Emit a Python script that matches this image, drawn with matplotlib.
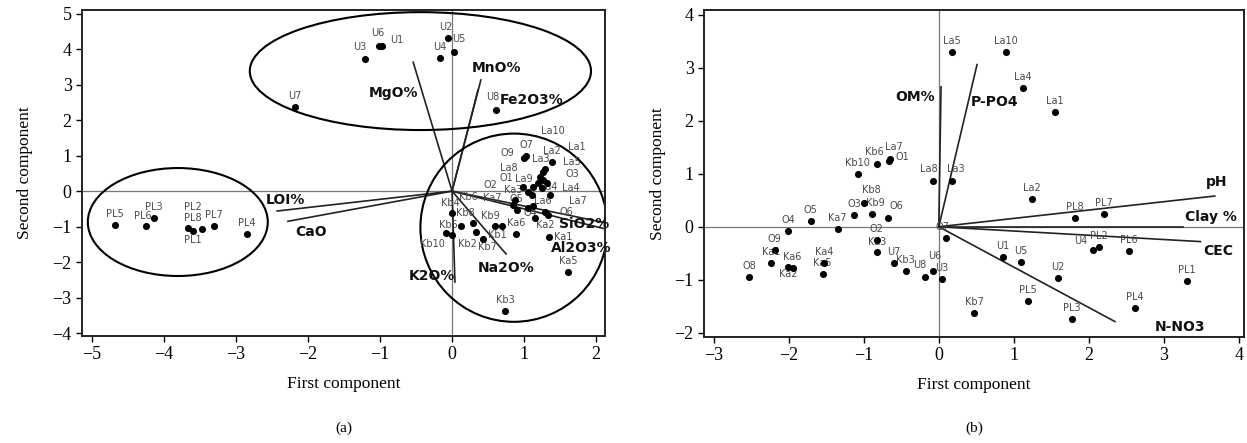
import matplotlib.pyplot as plt
from matplotlib.patches import Ellipse

# ---- panel (a): oxides ----
names_a = ['U1', 'U6', 'U3', 'U2', 'U5', 'U4', 'U7', 'U8',
           'PL5', 'PL6', 'PL3', 'PL2', 'PL8', 'PL1', 'PL7', 'PL4',
           'O7', 'O9', 'La2', 'La10', 'La3', 'La1', 'La5', 'La9', 'La8', 'O1',
           'O3', 'Ka3', 'Ka4', 'La4', 'O2', 'Kb6', 'Ka7', 'O5', 'La6', 'O4',
           'La7', 'O6',
           'Kb4', 'Kb8', 'Kb5', 'Kb10', 'Kb2', 'Kb9', 'Kb1', '', 'Kb7', 'Ka6',
           'Ka2', 'Ka1', 'Ka5', 'Kb3']
x_a = [-0.97, -1.01, -1.21, -0.06, 0.03, -0.17, -2.18, 0.61,
       -4.68, -4.25, -4.14, -3.67, -3.60, -3.47, -3.31, -2.85,
       1.03, 1.00, 1.39, 1.29, 1.26, 1.22, 1.32, 1.19, 0.99, 1.06,
       1.25, 1.13, 1.26, 1.36, 1.11, 0.88, 0.85, 0.90, 1.13, 1.06,
       1.29, 1.33,
       0.00, 0.13, -0.08, 0.00, 0.33, 0.60, 0.69, 0.29, 0.43, 0.89,
       1.15, 1.35, 1.61, 0.74]
y_a = [4.08, 4.08, 3.72, 4.31, 3.92, 3.75, 2.37, 2.28,
       -0.96, -0.99, -0.77, -1.04, -1.13, -1.08, -0.99, -1.21,
       0.99, 0.93, 0.82, 0.62, 0.54, 0.39, 0.23, 0.23, 0.11, -0.03,
       0.08, 0.11, 0.31, -0.11, -0.11, -0.25, -0.39, -0.54, -0.42, -0.48,
       -0.59, -0.68,
       -0.62, -0.99, -1.18, -1.24, -1.15, -0.99, -0.99, -0.90, -1.35, -1.21,
       -0.76, -1.30, -2.28, -3.38]

vars_a = ['MgO%', 'MnO%', 'Fe2O3%', 'LOI%', 'CaO', 'K2O%', 'Na2O%', 'SiO2%', 'Al2O3%']
vx_a = [-0.54, 0.40, 0.36, -2.43, -2.28, 0.04, 0.75, 2.10, 2.10]
vy_a = [3.63, 3.13, 2.85, -0.56, -0.85, -2.56, -1.77, -0.88, -1.05]

# group ellipses (centre x, centre y, width, height)
groups_a = [(-0.44, 3.38, 4.74, 3.32), (-3.81, -0.87, 2.50, 3.04), (0.86, -1.03, 2.60, 5.30)]

# ---- panel (b): soil properties ----
names_b = ['La5', 'La10', 'La4', 'La1', 'Kb10', 'Kb6', 'La7', 'O1', 'La8', 'La3',
           'Kb8', 'Kb9', 'O3', 'O6', 'O5', 'O4', 'Ka7', 'O2', 'Ka3', 'O9',
           'Ka1', 'Ka6', 'Ka2', 'Ka4', 'Ka5', 'O8', 'U7', 'Kb3', 'U8', 'U6',
           'U3', 'O7', 'La2', 'PL8', 'PL7', 'U4', 'PL2', 'PL6', 'U1', 'U5',
           'U2', 'PL1', 'PL5', 'PL4', 'PL3', 'Kb7']
x_b = [0.17, 0.89, 1.12, 1.55, -1.08, -0.83, -0.65, -0.67, -0.08, 0.17,
       -1.00, -0.89, -1.13, -0.68, -1.71, -2.01, -1.35, -0.83, -0.83, -2.19,
       -2.24, -2.01, -1.95, -1.53, -1.55, -2.53, -0.60, -0.44, -0.19, -0.08,
       0.04, 0.10, 1.24, 1.81, 2.20, 2.06, 2.13, 2.53, 0.85, 1.09,
       1.59, 3.31, 1.19, 2.61, 1.77, 0.47]
y_b = [3.30, 3.30, 2.62, 2.17, 1.00, 1.19, 1.28, 1.25, 0.87, 0.87,
       0.45, 0.25, 0.23, 0.17, 0.11, -0.08, -0.04, -0.25, -0.47, -0.43,
       -0.68, -0.75, -0.77, -0.68, -0.89, -0.94, -0.68, -0.83, -0.94, -0.83,
       -0.98, -0.21, 0.53, 0.17, 0.25, -0.43, -0.38, -0.45, -0.57, -0.66,
       -0.96, -1.02, -1.40, -1.53, -1.74, -1.62]

vars_b = ['OM%', 'P-PO4', 'pH', 'Clay %', 'CEC', 'N-NO3']
vx_b = [0.03, 0.51, 3.68, 3.25, 3.49, 2.35]
vy_b = [2.64, 3.06, 0.58, 0.00, -0.28, -1.79]

# ---- layout: label offsets (pixels) and variable label positions ----
offs = {
    'a': {'U1': (15, 6), 'U6': (-2, 13), 'U3': (-5, 12), 'U2': (-2, 11), 'U5': (5, 13),
          'U8': (-3, 13), 'PL6': (-3, 10), 'PL2': (5, 21), 'PL8': (0, 13),
          'PL1': (-9, -11), 'O9': (-17, 5), 'La10': (8, 38), 'La3': (-2, 13),
          'La1': (37, 30), 'La5': (25, 21), 'La9': (-14, 4), 'La8': (-15, 19),
          'O1': (-22, 14), 'O3': (30, 14), 'Ka3': (-20, -3), 'Ka4': (5, -7),
          'La4': (21, 7), 'O2': (-42, 10), 'Kb6': (-47, 3), 'Ka7': (-21, 7),
          'La6': (9, 5), 'O4': (2, -5), 'La7': (33, 11), 'O6': (19, 3),
          'Kb4': (-2, 10), 'Kb8': (4, 13), 'Kb5': (2, 8), 'Kb10': (-20, -9),
          'Kb2': (-8, -12), 'Kb9': (-5, 10), 'Kb1': (-4, -9), 'Kb7': (4, -8),
          'Ka2': (10, -7), 'Ka1': (14, 0)},
    'b': {'O1': (14, 4), 'La8': (-4, 12), 'La3': (4, 12), 'Kb8': (8, 13), 'Kb9': (3, 11),
          'O6': (9, 12), 'Ka3': (1, 10), 'Ka6': (4, 10), 'Ka2': (-4, -6),
          'U4': (-13, 9), 'O7': (-4, 11), 'Kb6': (-2, 12), 'La7': (4, 12),
          'U8': (-5, 12), 'U6': (2, 15)},
}
varpos_a = {'MgO%': (-0.82, 2.76), 'MnO%': (0.62, 3.46), 'Fe2O3%': (1.11, 2.56),
            'LOI%': (-2.32, -0.25), 'CaO': (-1.96, -1.15), 'K2O%': (-0.28, -2.39),
            'Na2O%': (0.75, -2.17), 'SiO2%': (1.83, -0.93), 'Al2O3%': (1.80, -1.60)}
varpos_b = {'OM%': (-0.32, 2.45), 'P-PO4': (0.75, 2.36), 'pH': (3.71, 0.85),
            'Clay %': (3.63, 0.19), 'CEC': (3.72, -0.45), 'N-NO3': (3.21, -1.89)}

serif = 'Liberation Serif'
fig = plt.figure(figsize=(12.47, 4.43), dpi=100)
ax_a = fig.add_axes([0.0658, 0.2415, 0.4194, 0.7359])
ax_b = fig.add_axes([0.5646, 0.2393, 0.4330, 0.7381])


def draw(ax, names, xs, ys, vnames, vxs, vys, vpos, off, xlim, ylim, xt, yt, ypad):
    ax.axhline(0, color='#777777', lw=0.9, zorder=1)
    ax.axvline(0, color='#777777', lw=0.9, zorder=1)
    for vx, vy in zip(vxs, vys):
        ax.plot([0, vx], [0, vy], color='#222222', lw=1.2, zorder=2)
    for v in vnames:
        ax.text(*vpos[v], v, ha='center', va='center', fontsize=10,
                fontweight='bold', color='#111111', zorder=5)
    ax.scatter(xs, ys, s=26, color='black', zorder=4, linewidths=0)
    for n, x, y in zip(names, xs, ys):
        if not n:
            continue
        dx, dy = off.get(n, (0, 11))
        ax.annotate(n, (x, y), xytext=(dx, dy), textcoords='offset pixels',
                    ha='center', va='center', fontsize=7, color='#4a4a4a', zorder=3)
    ax.set_xlim(*xlim)
    ax.set_ylim(*ylim)
    ax.set_xticks(xt)
    ax.set_yticks(yt)
    ax.set_xticklabels(['\u2212%d' % -t if t < 0 else '%d' % t for t in xt])
    ax.set_yticklabels(['\u2212%d' % -t if t < 0 else '%d' % t for t in yt])
    ax.tick_params(labelsize=13, length=4, width=1, direction='out')
    for lab in ax.get_xticklabels() + ax.get_yticklabels():
        lab.set_family(serif)
    for s in ax.spines.values():
        s.set_linewidth(1.4)
        s.set_color('#222222')
    ax.set_xlabel('First component', family=serif, fontsize=12.5, labelpad=9)
    ax.set_ylabel('Second component', family=serif, fontsize=12.5, labelpad=ypad)


draw(ax_a, names_a, x_a, y_a, vars_a, vx_a, vy_a, varpos_a, offs['a'],
     (-5.14, 2.125), (-4.08, 5.1), range(-5, 3), range(-4, 6), 14)
for cx, cy, w, h in groups_a:
    ax_a.add_patch(Ellipse((cx, cy), w, h, fill=False, ec='black', lw=1.5, zorder=2))

draw(ax_b, names_b, x_b, y_b, vars_b, vx_b, vy_b, varpos_b, offs['b'],
     (-3.13, 4.07), (-2.08, 4.09), range(-3, 5), range(-2, 5), 6)

fig.text(0.2755, 0.025, '(a)', family=serif, fontsize=11, ha='center')
fig.text(0.781, 0.025, '(b)', family=serif, fontsize=11, ha='center')

fig.savefig('out.png', dpi=100)
